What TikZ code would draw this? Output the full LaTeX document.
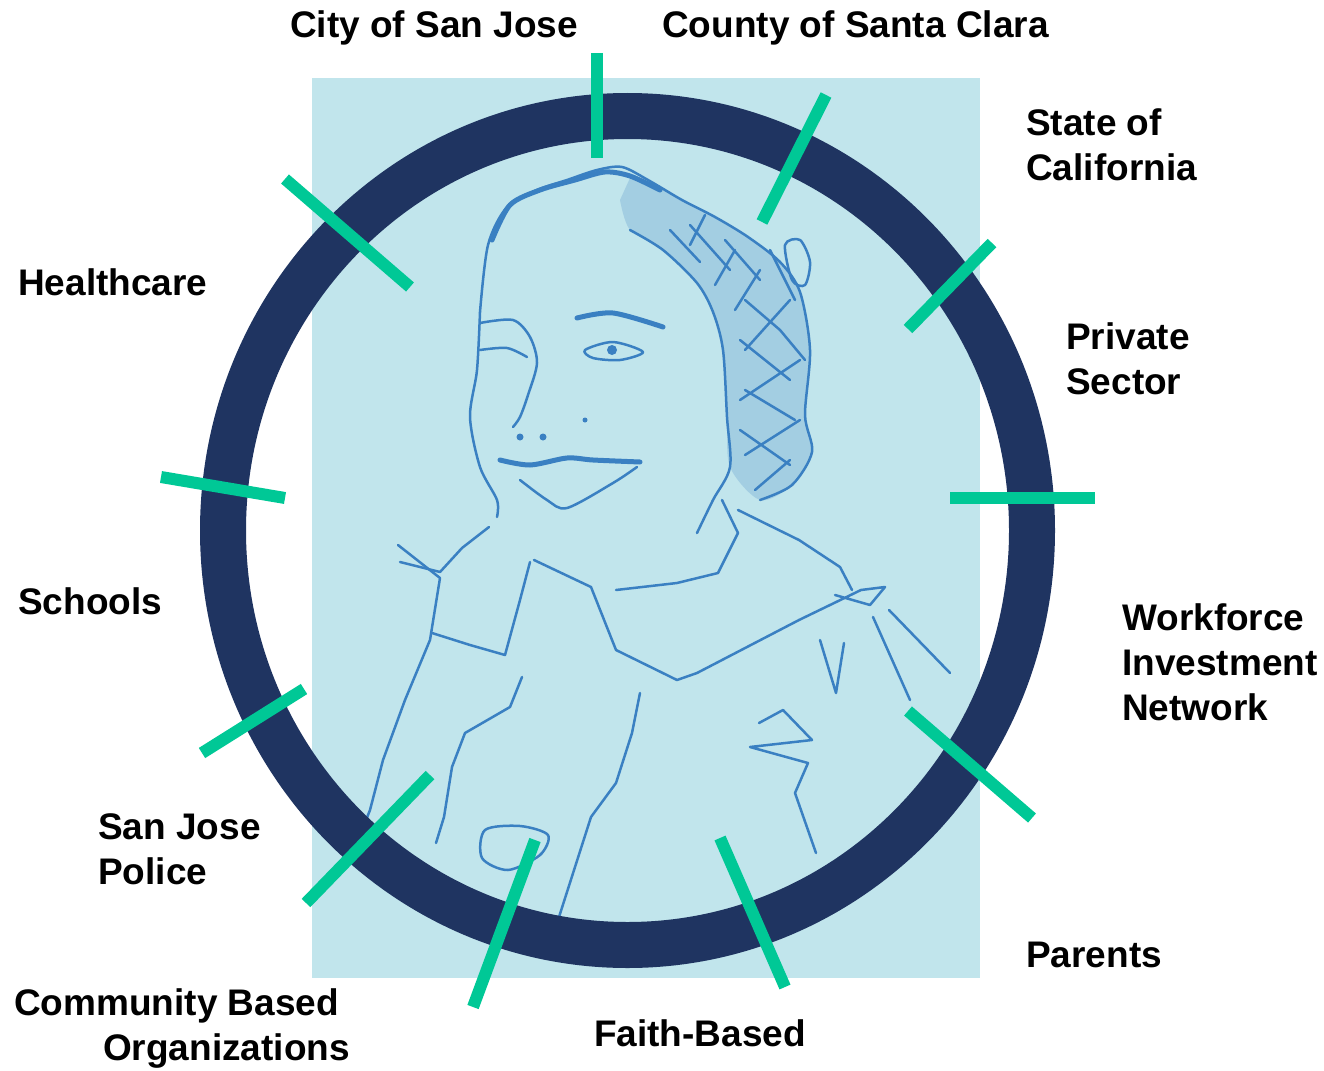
\documentclass[tikz,border=0pt]{standalone}
\usepackage{fontspec}
\setmainfont{Liberation Sans}
\definecolor{navy}{RGB}{31,52,97}
\definecolor{tickgreen}{RGB}{0,200,150}
\definecolor{paleblue}{RGB}{193,229,236}
\definecolor{sketchblue}{RGB}{58,128,194}
\begin{document}
\begin{tikzpicture}[x=1pt,y=-1pt,
  lbl/.style={font=\fontsize{37}{45}\selectfont\bfseries, align=left, anchor=base west, inner sep=0pt},
  tickline/.style={draw=tickgreen, line width=12pt},
  ringline/.style={draw=navy, line width=46pt},
  sk/.style={draw=sketchblue, line width=2.5pt, line join=round, line cap=round},
  skthick/.style={sk, line width=5pt}]
\useasboundingbox (0,0) rectangle (1324,1070);
% background panel
\fill[paleblue] (312,78) rectangle (980,978);
% --- sketch of the girl ---
\fill[sketchblue, opacity=0.22] plot[smooth] coordinates {(630,178) (648,180) (682,200) (715,217) (748,237) (780,262) (800,292) (810,350) (805,415) (812,452) (792,485) (760,500) (730,467) (727,417) (723,350) (713,312) (697,283) (663,250) (630,230) (620,200)} -- cycle;
\draw[sk] plot[smooth] coordinates {(480,312) (488,245) (507,207) (537,190) (567,180) (597,170) (622,167) (648,180) (682,200) (715,217) (748,237) (780,262) (800,292) (810,350) (805,415) (812,452) (792,485) (760,500)};
\draw[skthick] plot[smooth] coordinates {(492,240) (510,205) (540,190) (575,180) (605,172) (630,176) (660,190)};
\draw[sk] plot[smooth] coordinates {(630,230) (663,250) (697,283) (713,312) (723,350) (727,417) (730,467) (713,500) (697,533)};
\draw[sk] (670,230) -- (700,262) (690,225) -- (730,270) (725,240) -- (760,280) (745,300) -- (780,330) (740,340) -- (790,380) (745,390) -- (795,420) (740,430) -- (790,465) (770,250) -- (795,300) (780,330) -- (805,360)
  (705,215) -- (690,245) (735,250) -- (715,285) (760,270) -- (735,310) (790,300) -- (745,350) (800,360) -- (740,400) (800,420) -- (745,455) (790,460) -- (755,490);
\draw[sk] plot[smooth cycle] coordinates {(785,245) (800,240) (810,262) (805,285) (792,280)};
% face
\draw[sk] plot[smooth] coordinates {(480,312) (477,370) (470,417) (480,467) (497,500) (497,517)};
\draw[sk] plot[smooth] coordinates {(480,323) (513,320) (530,337) (537,363) (528,395) (520,417) (513,427)};
\draw[sk] plot[smooth] coordinates {(480,350) (507,348) (527,357)};
\draw[skthick] plot[smooth] coordinates {(577,318) (613,313) (663,327)};
\draw[sk] plot[smooth cycle] coordinates {(585,350) (613,342) (643,352) (620,360) (593,358)};
\fill[sketchblue] (612,350) circle[radius=5];
\fill[sketchblue] (520,437) circle[radius=3.5] (543,437) circle[radius=3.5] (585,420) circle[radius=2.5];
\draw[skthick] plot[smooth] coordinates {(500,460) (530,465) (567,458) (593,460) (640,462)};
\draw[sk] plot[smooth] coordinates {(520,480) (547,500) (567,508) (613,483) (637,467)};
% shoulders, scarf, jacket
\draw[sk] (398,545) -- (440,578) -- (430,640) -- (405,700) -- (383,760) -- (370,810) -- (358,840);
\draw[sk] (489,527) -- (462,548) -- (440,572) -- (400,562);
\draw[sk] (432,633) -- (470,645) -- (505,655) -- (520,600) -- (530,562);
\draw[sk] (534,560) -- (591,587) -- (616,650) -- (677,680) -- (697,673) -- (799,620) -- (861,590) -- (885,587) -- (870,605) -- (835,595);
\draw[sk] (616,590) -- (677,583) -- (718,573) -- (738,533) -- (722,500);
\draw[sk] (738,510) -- (799,540) -- (840,567) -- (852,590);
\draw[sk] (873,617) -- (910,700) (889,610) -- (950,673);
\draw[sk] (640,693) -- (632,733) -- (616,783) -- (591,817) -- (575,867) -- (559,917);
\draw[sk] (522,677) -- (510,707) -- (465,733) -- (452,767) -- (444,817) -- (436,843);
\draw[sk] plot[smooth cycle] coordinates {(485,830) (482,858) (508,870) (540,855) (548,835) (520,826)};
\draw[sk] (759,723) -- (783,710) -- (812,740) -- (750,747) -- (808,763) -- (795,793) -- (816,853);
\draw[sk] (820,640) -- (836,693) -- (844,643);
% --- ring ---
\draw[ringline] (627.5,530.5) ellipse[x radius=404.5, y radius=414.5];
% --- ticks ---
\coordinate (a1) at (597,53);  \coordinate (b1) at (597,158);
\coordinate (a2) at (826,95);  \coordinate (b2) at (762,222);
\coordinate (a3) at (992,243); \coordinate (b3) at (908,329);
\coordinate (a4) at (950,498); \coordinate (b4) at (1095,498);
\coordinate (a5) at (908,711); \coordinate (b5) at (1032,818);
\coordinate (a6) at (720,838); \coordinate (b6) at (785,987);
\coordinate (a7) at (535,840); \coordinate (b7) at (473,1007);
\coordinate (a8) at (430,775); \coordinate (b8) at (306,903);
\coordinate (a9) at (304,689); \coordinate (b9) at (202,753);
\coordinate (a10) at (161,477); \coordinate (b10) at (285,498);
\coordinate (a11) at (285,179); \coordinate (b11) at (410,287);
\foreach \i in {1,...,11} {\draw[tickline] (a\i) -- (b\i);}
% --- labels (multi-line: anchor at baseline of last line) ---
\node[lbl] (city) at (290,38) {City of San Jose};
\node[lbl] (county) at (662,38) {County of Santa Clara};
\node[lbl] (state) at (1026,180) {State of\\California};
\node[lbl] (private) at (1066,394) {Private\\Sector};
\node[lbl] (wib) at (1122,720) {Workforce\\Investment\\Network};
\node[lbl] (parents) at (1026,967) {Parents};
\node[lbl] (faith) at (594,1046) {Faith-Based};
\node[lbl] (cbo) at (14,1060) {Community Based\\\hspace*{89pt}Organizations};
\node[lbl] (police) at (98,884) {San Jose\\Police};
\node[lbl] (schools) at (18,614) {Schools};
\node[lbl] (health) at (18,295) {Healthcare};
\end{tikzpicture}
\end{document}
